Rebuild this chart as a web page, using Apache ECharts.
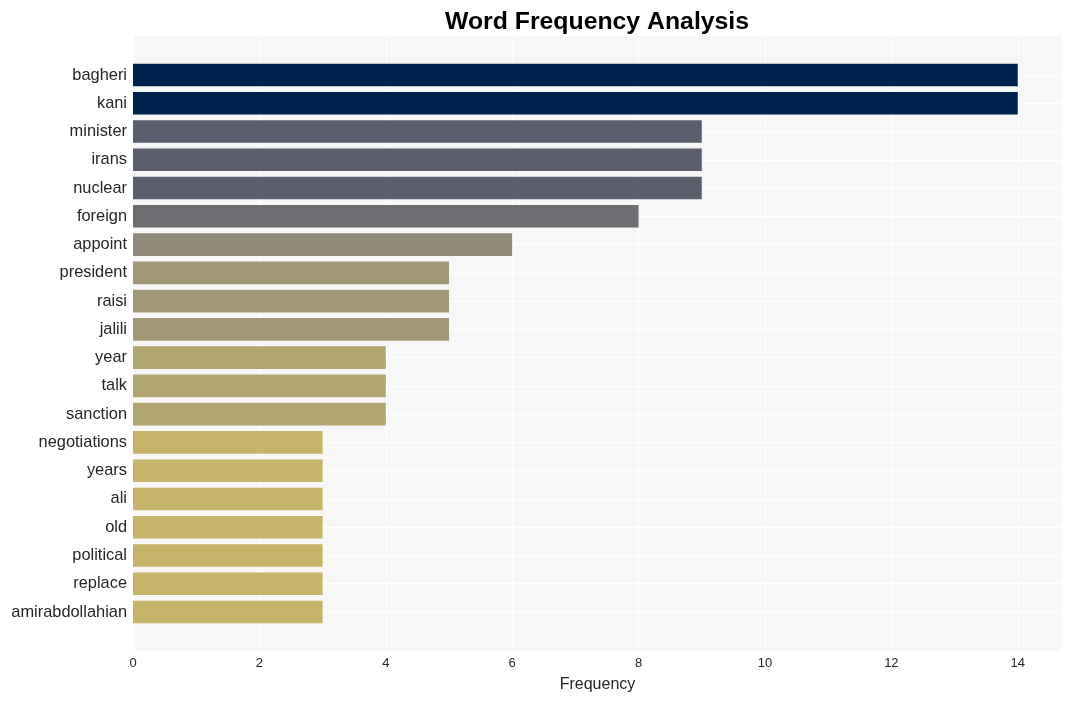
<!DOCTYPE html>
<html><head><meta charset="utf-8">
<script src="https://cdn.jsdelivr.net/npm/echarts@6/dist/echarts.min.js"></script>
<style>html,body{margin:0;padding:0;background:#fff}#c{width:1072px;height:701px}</style>
</head><body><div id="c"></div>
<script>
const words = ['bagheri','kani','minister','irans','nuclear','foreign','appoint','president','raisi','jalili','year','talk','sanction','negotiations','years','ali','old','political','replace','amirabdollahian'];
const counts = [14,14,9,9,9,8,6,5,5,5,4,4,4,3,3,3,3,3,3,3];
const xTickStep = 2;
const xMax = 14.7;
const colorByCount = {14:'#00224e',9:'#5b5f6d',8:'#6d6e72',6:'#8f8a78',5:'#a09877',4:'#b1a570',3:'#c5b46a'};

const chart = echarts.init(document.getElementById('c'), null, {renderer:'canvas'});
const font = 'Liberation Sans, Arial, sans-serif';
chart.setOption({
  animation:false,
  backgroundColor:'#ffffff',
  title:{text:'Word Frequency Analysis',left:592,textAlign:'center',top:5,
    textStyle:{fontFamily:font,fontSize:24.8,fontWeight:'bold',color:'#000'}},
  grid:[
    {left:133,right:10,top:36,bottom:50,show:true,backgroundColor:'#f7f7f7',borderWidth:0},
    {left:133,right:10,top:75,bottom:89}
  ],
  xAxis:[
    {gridIndex:0,type:'value',min:0,max:xMax,interval:xTickStep,
      name:'Frequency',nameLocation:'middle',nameGap:26,
      nameTextStyle:{fontFamily:font,fontSize:16,color:'#262626'},
      axisLine:{show:false},axisTick:{show:false},
      axisLabel:{fontFamily:font,fontSize:13,color:'#262626',margin:6,showMaxLabel:false},
      splitLine:{show:true,lineStyle:{color:'#ffffff',width:1}}},
    {gridIndex:1,type:'value',min:0,max:xMax,show:false,splitLine:{show:false}}
  ],
  yAxis:[
    {gridIndex:0,type:'value',show:false,splitLine:{show:false}},
    {gridIndex:1,type:'category',data:words,inverse:true,boundaryGap:false,
      axisLine:{show:false},axisTick:{show:false},
      axisLabel:{fontFamily:font,fontSize:16.4,color:'#262626',margin:6,interval:0,padding:[4,0,0,0]},
      splitLine:{show:true,interval:0,lineStyle:{color:'#ffffff',width:1}}}
  ],
  series:[{
    type:'bar',xAxisIndex:1,yAxisIndex:1,barWidth:22.6,clip:false,
    data:counts.map(v=>({value:v,itemStyle:{color:colorByCount[v]}}))
  }]
});
</script></body></html>
